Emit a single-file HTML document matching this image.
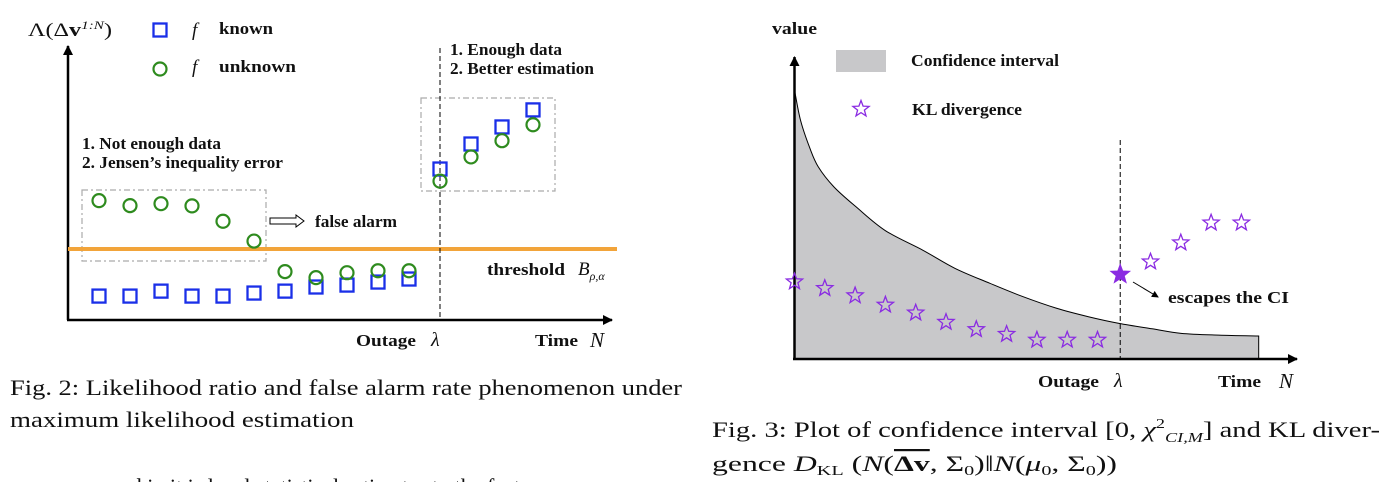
<!DOCTYPE html>
<html><head><meta charset="utf-8"><style>
html,body{margin:0;padding:0;background:#fff;overflow:hidden}
svg{display:block}
.lb{font-family:"Liberation Serif",serif;font-weight:bold;font-size:17px;fill:#111}
.it{font-family:"Liberation Serif",serif;font-style:italic;fill:#111}
.cap{font-family:"Liberation Serif",serif;font-size:22px;fill:#111}
</style></head><body>
<svg id="s" width="1392" height="482" viewBox="0 0 1392 482" xmlns="http://www.w3.org/2000/svg">
<defs>
<marker id="ah" markerWidth="10" markerHeight="10" refX="9" refY="5" orient="auto" markerUnits="userSpaceOnUse"><path d="M0,0 L10,5 L0,10 Z" fill="#000"/></marker>
<marker id="ahs" markerWidth="7" markerHeight="7" refX="6" refY="3.5" orient="auto" markerUnits="userSpaceOnUse"><path d="M0,0 L7,3.5 L0,7 Z" fill="#000"/></marker>
</defs>
<!-- Fig 2 -->
<g id="fig2">
<line x1="68" y1="320" x2="68" y2="46" stroke="#000" stroke-width="2.5" marker-end="url(#ah)"/>
<line x1="67" y1="320" x2="612" y2="320" stroke="#000" stroke-width="2.5" marker-end="url(#ah)"/>
<rect x="82" y="190" width="184" height="71" fill="none" stroke="#aaa" stroke-width="1.2" stroke-dasharray="6,3,2,3"/>
<rect x="421" y="98" width="134" height="93" fill="none" stroke="#aaa" stroke-width="1.2" stroke-dasharray="6,3,2,3"/>
<text class="lb" x="28" y="36" textLength="84" lengthAdjust="spacingAndGlyphs" style="font-weight:normal;font-size:19px">Λ(Δ<tspan font-weight="bold">v</tspan><tspan dy="-7" font-size="12" font-style="italic">1:N</tspan><tspan dy="7">)</tspan></text>
<rect x="153.5" y="23.5" width="13" height="13" fill="none" stroke="#1a2fe8" stroke-width="2.3"/>
<text class="it" x="192" y="36" font-size="19">f</text>
<text class="lb" x="219" y="34" textLength="54" lengthAdjust="spacingAndGlyphs">known</text>
<circle cx="160" cy="69" r="6.5" fill="none" stroke="#2e8b1e" stroke-width="2.2"/>
<text class="it" x="192" y="73" font-size="19">f</text>
<text class="lb" x="219" y="72" textLength="77" lengthAdjust="spacingAndGlyphs">unknown</text>
<text class="lb" x="82" y="149" textLength="139" lengthAdjust="spacingAndGlyphs">1. Not enough data</text>
<text class="lb" x="82" y="168" textLength="201" lengthAdjust="spacingAndGlyphs">2. Jensen’s inequality error</text>
<text class="lb" x="450" y="55" textLength="112" lengthAdjust="spacingAndGlyphs">1. Enough data</text>
<text class="lb" x="450" y="74" textLength="144" lengthAdjust="spacingAndGlyphs">2. Better estimation</text>
<path d="M270,218 H296 V215 L304,221 L296,227 V224 H270 Z" fill="none" stroke="#000" stroke-width="1"/>
<text class="lb" x="315" y="227" textLength="82" lengthAdjust="spacingAndGlyphs">false alarm</text>
<text class="lb" x="487" y="275" textLength="78" lengthAdjust="spacingAndGlyphs">threshold</text>
<text class="it" x="578" y="275" font-size="19">B<tspan dy="5" font-size="12">ρ,α</tspan></text>
<text class="lb" x="356" y="346" textLength="60" lengthAdjust="spacingAndGlyphs">Outage</text>
<text class="it" x="431" y="346" font-size="20">λ</text>
<text class="lb" x="535" y="346" textLength="43" lengthAdjust="spacingAndGlyphs">Time</text>
<text class="it" x="590" y="347" font-size="21">N</text>
<g id="g2marks"></g>
</g>
<text class="cap" x="10" y="395" textLength="672" lengthAdjust="spacingAndGlyphs">Fig. 2: Likelihood ratio and false alarm rate phenomenon under</text>
<text class="cap" x="10" y="427" textLength="344" lengthAdjust="spacingAndGlyphs">maximum likelihood estimation</text>
<text class="cap" x="110" y="494">and in it is local statistical estimator to the fact</text>

<!-- Fig 3 -->
<g id="fig3">
<g id="g3area"></g>
<line x1="794.5" y1="360" x2="794.5" y2="57" stroke="#000" stroke-width="2.5" marker-end="url(#ah)"/>
<line x1="793" y1="359" x2="1297" y2="359" stroke="#000" stroke-width="2.5" marker-end="url(#ah)"/>
<text class="lb" x="772" y="34" textLength="45" lengthAdjust="spacingAndGlyphs">value</text>
<rect x="836" y="50" width="50" height="22" fill="#c8c8ca"/>
<text class="lb" x="911" y="66" textLength="148" lengthAdjust="spacingAndGlyphs">Confidence interval</text>
<text class="lb" x="912" y="115" textLength="110" lengthAdjust="spacingAndGlyphs">KL divergence</text>
<line x1="1133" y1="282" x2="1158" y2="297" stroke="#000" stroke-width="1" marker-end="url(#ahs)"/>
<text class="lb" x="1168" y="303" textLength="121" lengthAdjust="spacingAndGlyphs">escapes the CI</text>
<text class="lb" x="1038" y="387" textLength="61" lengthAdjust="spacingAndGlyphs">Outage</text>
<text class="it" x="1114" y="387" font-size="20">λ</text>
<text class="lb" x="1218" y="387" textLength="43" lengthAdjust="spacingAndGlyphs">Time</text>
<text class="it" x="1279" y="388" font-size="21">N</text>
<g id="g3marks"></g>
</g>
<text class="cap" x="712" y="437" textLength="668" lengthAdjust="spacingAndGlyphs">Fig. 3: Plot of confidence interval [0, <tspan font-style="italic">χ</tspan><tspan dy="-9" font-size="14">2</tspan><tspan dy="14" font-size="14" font-style="italic">CI,M</tspan><tspan dy="-5">] and KL diver-</tspan></text>
<text class="cap" x="712" y="471" textLength="405" lengthAdjust="spacingAndGlyphs">gence <tspan font-style="italic">D</tspan><tspan font-size="14" dy="4">KL</tspan><tspan dy="-4"> (</tspan><tspan font-style="italic">N</tspan>(<tspan text-decoration="overline" font-weight="bold">Δv</tspan>, Σ<tspan font-size="14" dy="4">0</tspan><tspan dy="-4">)‖</tspan><tspan font-style="italic">N</tspan>(<tspan font-style="italic">μ</tspan><tspan font-size="14" dy="4">0</tspan><tspan dy="-4">, Σ</tspan><tspan font-size="14" dy="4">0</tspan><tspan dy="-4">))</tspan></text>
</svg>
<script>
// Fig 2 data
const f2Index = [1,2,3,4,5,6,7,8,9,10,11,12,13,14,15];
const f2Known = [0.87,0.87,1.05,0.87,0.87,0.98,1.05,1.2,1.27,1.38,1.49,5.49,6.4,7.02,7.64];
const f2Unknown = [4.34,4.16,4.23,4.15,3.59,2.87,1.76,1.54,1.72,1.79,1.79,5.05,5.93,6.52,7.1];
const f2Threshold = 2.58;
const f2Outage = 12;
// Fig 3 data
const f3PreIndex = [0,1,2,3,4,5,6,7,8,9,10];
const f3PreKL = [2.56,2.34,2.1,1.79,1.53,1.22,0.98,0.82,0.63,0.63,0.63];
const f3Outage = 10.75;
const f3EscapeKL = 2.8;
const f3PostOffset = [1,2,3,4];
const f3PostKL = [3.22,3.85,4.51,4.51];
const f3CIx = [0,0.2,0.5,0.78,1.3,2.03,3,4.24,5.3,6.44,7.5,8.65,9.7,10.71,11.8,12.76,14,15.32];
const f3CIy = [8.91,7.9,7.0,6.37,5.7,5.04,4.25,3.6,3.0,2.51,2.08,1.68,1.4,1.18,1.0,0.85,0.79,0.76];

const NS="http://www.w3.org/2000/svg";
function mk(t,a,p){const e=document.createElementNS(NS,t);for(const k in a)e.setAttribute(k,a[k]);p.appendChild(e);return e;}
const x2=i=>68+i*31, y2=v=>320-v*27.5;
const x3=i=>794.5+i*30.3, y3=v=>359-v*30.2;
const g2=document.getElementById('g2marks');
const th=mk('line',{x1:68,x2:617,y1:y2(f2Threshold),y2:y2(f2Threshold),stroke:'#f2a43a','stroke-width':4},g2);


const ol=mk('line',{x1:x2(f2Outage),x2:x2(f2Outage),y1:48,y2:320,stroke:'#000','stroke-width':1,'stroke-dasharray':'5,3'},g2);


f2Index.forEach((i,k)=>{
  const sq=mk('rect',{x:x2(i)-6.5,y:y2(f2Known[k])-6.5,width:13,height:13,fill:'none',stroke:'#1a2fe8','stroke-width':2.3},g2);
  
  
});
f2Index.forEach((i,k)=>{
  const c=mk('circle',{cx:x2(i),cy:y2(f2Unknown[k]),r:6.5,fill:'none',stroke:'#2e8b1e','stroke-width':2.2},g2);
  
  
});
// Fig 3
const ga=document.getElementById('g3area');
let pts=f3CIx.map((x,k)=>[x3(x),y3(f3CIy[k])]);
let d='M'+x3(0)+','+359+' L'+pts[0][0]+','+pts[0][1];
for(let k=0;k<pts.length-1;k++){
  const p0=pts[Math.max(0,k-1)],p1=pts[k],p2=pts[k+1],p3=pts[Math.min(pts.length-1,k+2)];
  d+=' C'+(p1[0]+(p2[0]-p0[0])/6)+','+(p1[1]+(p2[1]-p0[1])/6)+' '+(p2[0]-(p3[0]-p1[0])/6)+','+(p2[1]-(p3[1]-p1[1])/6)+' '+p2[0]+','+p2[1];
}
const last=pts[pts.length-1];
d+=' L'+last[0]+',359 Z';
const ar=mk('path',{d:d,fill:'#c8c8ca',stroke:'#000','stroke-width':1},ga);


const g3=document.getElementById('g3marks');
const ol3=mk('line',{x1:x3(f3Outage),x2:x3(f3Outage),y1:140,y2:359,stroke:'#000','stroke-width':1,'stroke-dasharray':'5,3'},g3);


function star(cx,cy,r,filled,name){
  let s='';for(let k=0;k<10;k++){const rr=k%2?r*0.42:r;const a=-Math.PI/2+k*Math.PI/5;s+=(cx+rr*Math.cos(a)).toFixed(1)+','+(cy+rr*Math.sin(a)).toFixed(1)+' ';}
  const e=mk('polygon',{points:s,fill:filled?'#8a2be2':'none',stroke:'#8a2be2','stroke-width':1.3},g3);
  
  
}
star(861,109,8.5,false,'legend-kl-marker');
f3PreIndex.forEach((i,k)=>star(x3(i),y3(f3PreKL[k]),8.5,false,'kl-point'));
star(x3(f3Outage),y3(f3EscapeKL),9.5,true,'kl-escape-point');
f3PostOffset.forEach((o,k)=>star(x3(f3Outage+o),y3(f3PostKL[k]),8.5,false,'kl-point'));
</script>
</body></html>
